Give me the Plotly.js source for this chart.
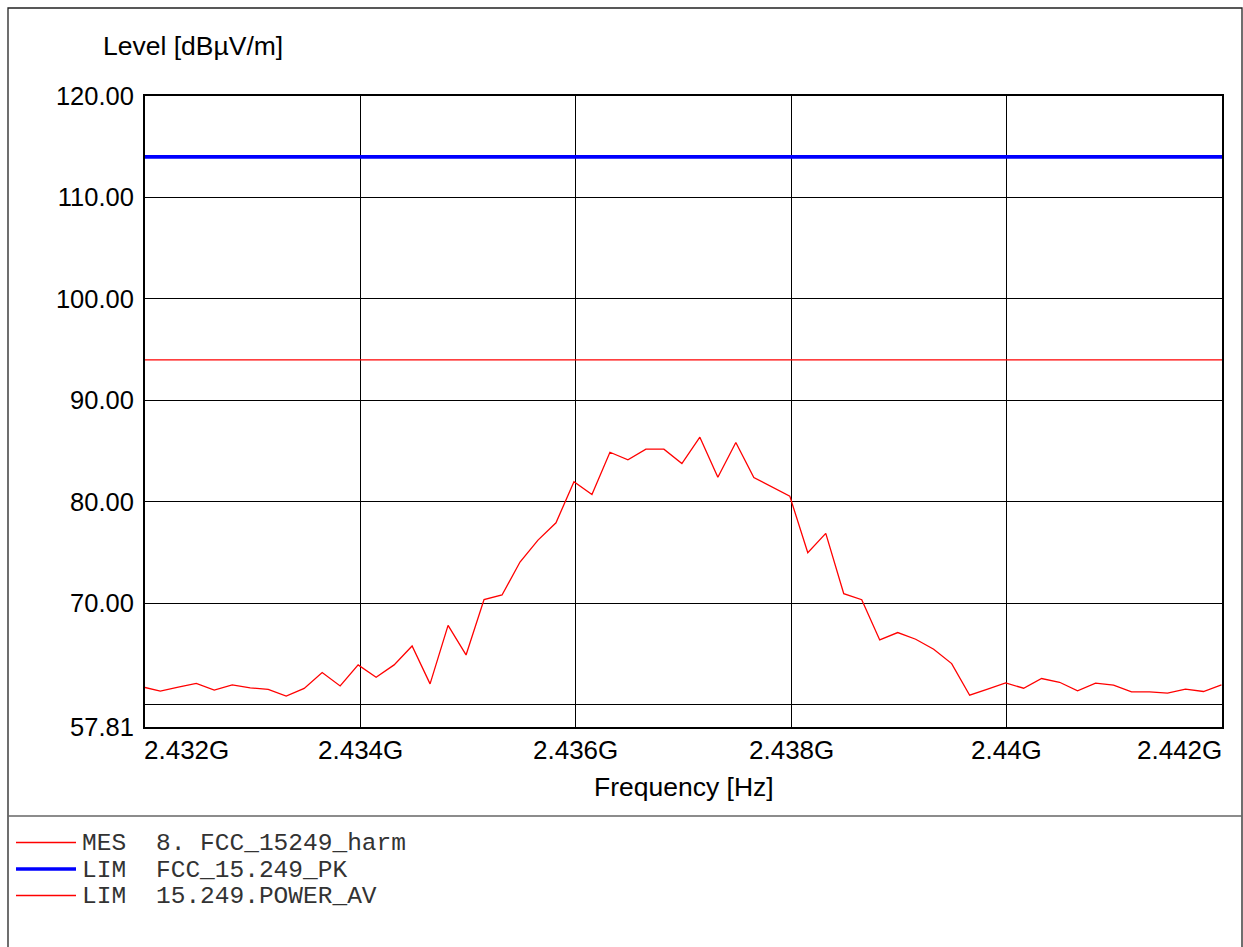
<!DOCTYPE html>
<html><head><meta charset="utf-8">
<script src="https://cdn.plot.ly/plotly-3.0.1.min.js"></script>
<style>html,body{margin:0;padding:0;background:#fff;overflow:hidden}</style>
</head><body><div id="chart" style="width:1243px;height:947px"></div>
<script>
// ---- data ----
const freqMHz = [2431.975, 2432.142, 2432.309, 2432.476, 2432.643, 2432.810, 2432.977, 2433.144, 2433.311, 2433.478,
  2433.645, 2433.812, 2433.979, 2434.146, 2434.313, 2434.480, 2434.647, 2434.814, 2434.981, 2435.148,
  2435.315, 2435.482, 2435.649, 2435.816, 2435.983, 2436.150, 2436.317, 2436.484, 2436.651, 2436.818,
  2436.985, 2437.152, 2437.319, 2437.486, 2437.653, 2437.820, 2437.987, 2438.154, 2438.321, 2438.488,
  2438.655, 2438.822, 2438.989, 2439.156, 2439.323, 2439.490, 2439.657, 2439.824, 2439.991, 2440.158,
  2440.325, 2440.492, 2440.659, 2440.826, 2440.993, 2441.160, 2441.327, 2441.494, 2441.661, 2441.828,
  2441.995];
const levelMES = [61.77, 61.34, 61.73, 62.10, 61.44, 61.96, 61.67, 61.51, 60.85, 61.61,
  63.18, 61.86, 63.93, 62.72, 63.93, 65.80, 62.06, 67.83, 64.91, 70.36,
  70.82, 74.07, 76.23, 77.94, 81.98, 80.73, 84.89, 84.14, 85.19, 85.19,
  83.78, 86.37, 82.43, 85.85, 82.40, 81.45, 80.56, 74.99, 76.89, 70.95,
  70.36, 66.39, 67.12, 66.46, 65.47, 64.06, 60.94, 61.54, 62.16, 61.63,
  62.59, 62.22, 61.37, 62.13, 61.93, 61.27, 61.27, 61.14, 61.54, 61.31,
  61.96];
const limitPK = 114;
const limitAV = 94;
const xRangeMHz = [2432, 2442];
const xTickMHz = [2432, 2434, 2436, 2438, 2440, 2442];
const xTickLabels = ['2.432G', '2.434G', '2.436G', '2.438G', '2.44G', '2.442G'];
const yRange = [57.81, 120];
const yTickVals = [57.81, 60, 70, 80, 90, 100, 110, 120];
const yTickLabels = ['57.81', '', '70.00', '80.00', '90.00', '100.00', '110.00', '120.00'];
const legendKinds = ['MES', 'LIM', 'LIM'];
const legendNames = ['8. FCC_15249_harm', 'FCC_15.249_PK', '15.249.POWER_AV'];
const yTitle = 'Level [dBµV/m]';
const xTitle = 'Frequency [Hz]';

// ---- geometry / style ----
const W = 1243, H = 947;
const PL = 145, PR = 1222, PT = 96, PB = 727;
const px = x => (x - PL) / (PR - PL);
const py = y => (PB - y) / (PB - PT);
const sans = 'Liberation Sans, Arial, sans-serif';
const mono = 'Liberation Mono, Courier New, monospace';
const styles = [
  {color: '#ff0000', width: 1.3},
  {color: '#0000ff', width: 3.6},
  {color: '#ff0000', width: 1.3}
];

const hz = v => v * 1e6;
const xr = xRangeMHz.map(hz);

const traces = [
  {x: xr, y: [limitAV, limitAV], mode: 'lines', name: legendNames[2], line: styles[2], showlegend: false, hoverinfo: 'skip'},
  {x: xr, y: [limitPK, limitPK], mode: 'lines', name: legendNames[1], line: styles[1], showlegend: false, hoverinfo: 'skip'},
  {x: freqMHz.map(hz), y: levelMES, mode: 'lines', name: legendNames[0], line: styles[0], showlegend: false}
];

const annotations = [];
xTickMHz.forEach((v, i) => {
  const first = i === 0, last = i === xTickMHz.length - 1;
  annotations.push({
    x: hz(v), xref: 'x', y: py(750), yref: 'paper',
    text: xTickLabels[i], showarrow: false,
    xanchor: first ? 'left' : (last ? 'right' : 'center'),
    xshift: first ? -3 : (last ? 2 : 0),
    yanchor: 'middle', font: {family: sans, size: 26, color: '#000'}
  });
});
annotations.push({x: px(683.5), xref: 'paper', y: py(787), yref: 'paper', text: xTitle, showarrow: false,
  xanchor: 'center', yanchor: 'middle', font: {family: sans, size: 26.5, color: '#000'}});
annotations.push({x: px(101), xref: 'paper', y: py(46), yref: 'paper', text: yTitle, showarrow: false,
  xanchor: 'left', yanchor: 'middle', font: {family: sans, size: 26.5, color: '#000'}});

const shapes = [
  // outer frame
  {type: 'rect', xref: 'paper', yref: 'paper', x0: px(8), x1: px(1242), y0: py(990), y1: py(8),
   line: {color: '#222', width: 1.3}, layer: 'below'},
  // separator
  {type: 'line', xref: 'paper', yref: 'paper', x0: px(8), x1: px(1242), y0: py(816), y1: py(816),
   line: {color: '#666', width: 1.5}}
];
const legendRowY = [842.5, 869, 895.5];
legendKinds.forEach((k, i) => {
  shapes.push({type: 'line', xref: 'paper', yref: 'paper', x0: px(16), x1: px(76), y0: py(legendRowY[i]), y1: py(legendRowY[i]),
    line: styles[i]});
  annotations.push({x: px(79.5), xref: 'paper', y: py(legendRowY[i] + 1), yref: 'paper', text: k, showarrow: false,
    xanchor: 'left', yanchor: 'middle', font: {family: mono, size: 24.5, color: '#333'}});
  annotations.push({x: px(153.5), xref: 'paper', y: py(legendRowY[i] + 1), yref: 'paper', text: legendNames[i], showarrow: false,
    xanchor: 'left', yanchor: 'middle', font: {family: mono, size: 24.5, color: '#333'}});
});

const layout = {
  width: W, height: H,
  margin: {l: PL, r: W - PR, t: PT, b: H - PB, pad: 0},
  paper_bgcolor: '#fff', plot_bgcolor: '#fff',
  showlegend: false,
  xaxis: {
    range: xr, tickvals: xTickMHz.map(hz), showticklabels: false, ticks: '',
    showgrid: true, gridcolor: '#000', gridwidth: 1, zeroline: false,
    showline: true, linecolor: '#000', linewidth: 2, mirror: true, fixedrange: true
  },
  yaxis: {
    range: yRange, tickvals: yTickVals, ticktext: yTickLabels, ticks: '',
    ticklabelstandoff: 4,
    tickfont: {family: sans, size: 25.5, color: '#000'},
    showgrid: true, gridcolor: '#000', gridwidth: 1, zeroline: false,
    showline: true, linecolor: '#000', linewidth: 2, mirror: true, fixedrange: true
  },
  annotations: annotations,
  shapes: shapes
};

Plotly.newPlot('chart', traces, layout, {staticPlot: true, displayModeBar: false});
</script>
</body></html>
